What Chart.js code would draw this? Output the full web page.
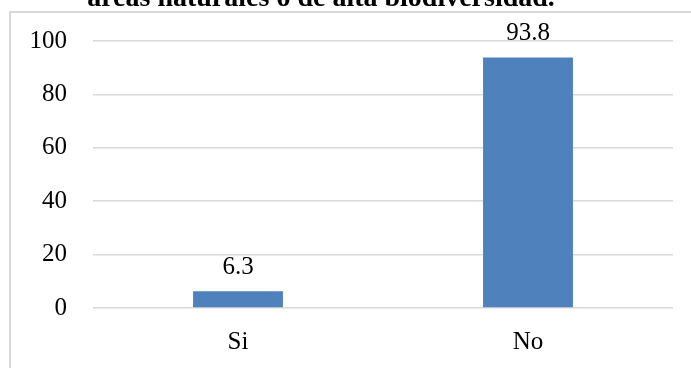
<!DOCTYPE html>
<html>
<head>
<meta charset="utf-8">
<script src="https://cdn.jsdelivr.net/npm/chart.js@4.4.1/dist/chart.umd.min.js"></script>
<style>
  html, body { margin: 0; padding: 0; background: #fff; }
  #wrap { position: relative; width: 691px; height: 368px; overflow: hidden; }
  #marco { position: absolute; left: 9px; top: 11px; width: 700px; height: 400px;
           border-left: 2px solid #d9d9d9; border-top: 2px solid #d9d9d9; }
  #grafico { position: absolute; left: 0; top: 0; }
</style>
</head>
<body>
<div id="wrap">
  <div id="marco"></div>
  <canvas id="grafico" width="691" height="368"></canvas>
</div>
<script>
// datos del grafico
const categorias = ["Si", "No"];
const porcentajes = [6.3, 93.8];
const ticksY = [0, 20, 40, 60, 80, 100];
const titulo = "áreas naturales o de alta biodiversidad.";

const fuente = "'Liberation Serif', 'Times New Roman', serif";

// titulo recortado arriba (como en la imagen original)
const tituloCortado = {
  id: "tituloCortado",
  afterDraw(chart) {
    const ctx = chart.ctx;
    ctx.save();
    ctx.font = "bold 28px " + fuente;
    ctx.fillStyle = "#000";
    ctx.textAlign = "center";
    ctx.textBaseline = "alphabetic";
    ctx.fillText(titulo, 321, 6);
    ctx.restore();
  },
};

// etiquetas de valor encima de cada barra
const etiquetasValor = {
  id: "etiquetasValor",
  afterDatasetsDraw(chart) {
    const ctx = chart.ctx;
    const meta = chart.getDatasetMeta(0);
    ctx.save();
    ctx.font = "25px " + fuente;
    ctx.fillStyle = "#000";
    ctx.textAlign = "center";
    ctx.textBaseline = "middle";
    meta.data.forEach((barra, i) => {
      ctx.fillText(porcentajes[i].toFixed(1), barra.x, barra.y - 24);
    });
    ctx.restore();
  },
};

function dibujar() {
  new Chart(document.getElementById("grafico"), {
    type: "bar",
    data: {
      labels: categorias,
      datasets: [
        {
          data: porcentajes,
          backgroundColor: "#4f81bd",
          borderWidth: 0,
          categoryPercentage: 1,
          barPercentage: 0.31,
        },
      ],
    },
    options: {
      responsive: false,
      animation: false,
      layout: { padding: { left: 0, right: 18, top: 41, bottom: 0 } },
      plugins: {
        legend: { display: false },
        tooltip: { enabled: false },
        title: { display: false },
      },
      scales: {
        x: {
          grid: { display: false, drawTicks: false },
          border: { display: false },
          ticks: { color: "#000", font: { family: fuente, size: 25 }, padding: 19 },
          afterFit: (s) => { s.height = 60; },
        },
        y: {
          min: 0,
          max: 100,
          afterBuildTicks: (s) => { s.ticks = ticksY.map((v) => ({ value: v })); },
          grid: { color: "#d9d9d9", lineWidth: 1.5, drawTicks: false },
          border: { display: false },
          ticks: { color: "#000", font: { family: fuente, size: 25 }, padding: 26 },
          afterFit: (s) => { s.width = 93; },
        },
      },
    },
    plugins: [etiquetasValor, tituloCortado],
  });
}

Promise.all([
  document.fonts.load("25px 'Liberation Serif'"),
  document.fonts.load("bold 28px 'Liberation Serif'"),
]).then(dibujar, dibujar);
</script>
</body>
</html>
